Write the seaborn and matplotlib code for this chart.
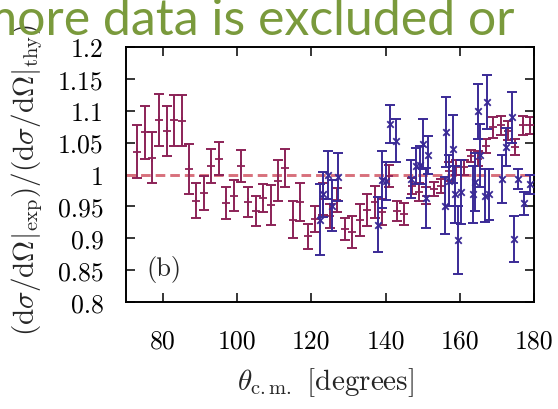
import numpy as np
import pandas as pd
import matplotlib
matplotlib.use("Agg")
import matplotlib.pyplot as plt
import seaborn as sns

# ---- data ----
red_x = [73, 75, 77, 79, 81, 83, 85, 87, 89, 91,
         93, 95, 97, 99, 101, 103, 105, 107, 109, 111,
         113, 115, 117, 119, 121, 123, 125, 127, 129, 131,
         133, 135, 137, 139, 141, 143, 145, 147, 149, 151,
         153, 155, 157, 159, 161, 163, 165, 167, 169, 171,
         173, 175, 177, 179]
red_y = [1.036, 1.066, 1.026, 1.085, 1.068, 1.085, 1.084, 1.009, 0.959, 0.971,
         1.013, 1.025, 0.955, 0.967, 1.013, 0.957, 0.943, 0.963, 0.952, 0.990,
         1.010, 0.929, 0.957, 0.903, 0.930, 0.962, 0.935, 0.960, 0.915, 0.910,
         0.929, 0.945, 0.957, 0.941, 0.998, 0.943, 0.938, 0.982, 0.972, 0.967,
         0.977, 0.982, 1.005, 1.011, 1.011, 1.029, 1.025, 1.045, 1.074, 1.077,
         1.069, 1.043, 1.077, 1.077]
red_err = [0.042, 0.042, 0.040, 0.041, 0.039, 0.040, 0.040, 0.039, 0.027, 0.027,
           0.027, 0.026, 0.025, 0.025, 0.025, 0.023, 0.023, 0.022, 0.031, 0.032,
           0.030, 0.029, 0.030, 0.020, 0.020, 0.025, 0.019, 0.019, 0.017, 0.025,
           0.025, 0.025, 0.025, 0.020, 0.017, 0.016, 0.017, 0.012, 0.014, 0.013,
           0.011, 0.011, 0.015, 0.012, 0.011, 0.010, 0.012, 0.011, 0.016, 0.015,
           0.015, 0.012, 0.015, 0.013]

blue_x = [122.3, 123.2, 124.4, 125.5, 127.1, 138.0, 139.1, 140.2, 141.3, 142.7,
          146.9, 148.1, 149.3, 150.2, 150.8, 151.3, 155.9, 156.4, 157.2, 158.2,
          158.6, 159.6, 160.2, 163.6, 164.2, 164.9, 165.4, 166.8, 167.3, 168.0,
          171.5, 172.4, 174.0, 174.5, 175.8, 177.4, 178.8]
blue_y = [0.929, 0.969, 0.999, 0.951, 0.996, 0.921, 0.992, 0.990, 1.079, 1.053,
          0.993, 1.013, 1.015, 1.048, 0.963, 1.031, 0.951, 1.066, 0.990, 1.040,
          0.969, 0.897, 0.973, 0.969, 0.988, 1.099, 1.030, 0.967, 1.114, 0.969,
          0.993, 1.043, 1.090, 0.899, 0.993, 0.955, 0.985]
blue_err = [0.056, 0.035, 0.038, 0.040, 0.037, 0.043, 0.045, 0.030, 0.030, 0.034,
            0.030, 0.028, 0.030, 0.039, 0.047, 0.030, 0.045, 0.055, 0.040, 0.053,
            0.045, 0.053, 0.050, 0.045, 0.045, 0.043, 0.050, 0.041, 0.042, 0.040,
            0.038, 0.030, 0.040, 0.036, 0.015, 0.018, 0.015]

x_ticks = [80, 100, 120, 140, 160, 180]
y_ticks = [0.8, 0.85, 0.9, 0.95, 1.0, 1.05, 1.1, 1.15, 1.2]
y_ticklabels = ["0.8", "0.85", "0.9", "0.95", "1", "1.05", "1.1", "1.15", "1.2"]
x_ticklabels = ["80", "100", "120", "140", "160", "180"]

RED = "#8c2257"
BLUE = "#3a2a96"
DASH = "#d8707c"
GREEN = "#7a9a3c"

sns.set_theme(style="ticks")
plt.rcParams["font.family"] = ["cmr10", "DejaVu Serif"]
plt.rcParams["mathtext.fontset"] = "cm"
plt.rcParams["axes.formatter.use_mathtext"] = True

fig = plt.figure(figsize=(5.58, 4.10), dpi=100)
ax = fig.add_axes([126 / 558, 1 - 303 / 410, (534 - 126) / 558, (303 - 48) / 410])

df_red = pd.DataFrame({"x": red_x, "y": red_y, "e": red_err})
df_blue = pd.DataFrame({"x": blue_x, "y": blue_y, "e": blue_err})

ax.axhline(1.0, color=DASH, lw=2.1, dashes=(3.3, 1.7), zorder=1)

ax.errorbar(df_red["x"], df_red["y"], yerr=df_red["e"], fmt="none",
            ecolor=RED, elinewidth=1.4, capsize=3.6, capthick=1.4, zorder=2)
sns.scatterplot(data=df_red, x="x", y="y", marker="+", s=30, color=RED,
                linewidth=1.3, ax=ax, zorder=3)

ax.errorbar(df_blue["x"], df_blue["y"], yerr=df_blue["e"], fmt="none",
            ecolor=BLUE, elinewidth=1.4, capsize=3.6, capthick=1.4, zorder=4)
sns.scatterplot(data=df_blue, x="x", y="y", marker="x", s=22, color=BLUE,
                linewidth=1.3, ax=ax, zorder=5)

ax.set_xlim(70, 180)
ax.set_ylim(0.8, 1.2)
ax.set_xticks(x_ticks)
ax.set_xticklabels(x_ticklabels)
ax.set_yticks(y_ticks)
ax.set_yticklabels(y_ticklabels)
ax.set_xlabel("")
ax.set_ylabel("")
ax.tick_params(axis="both", direction="in", length=6.5, width=1.1,
               top=True, right=True, labelsize=18.5, colors="black")
ax.tick_params(axis="x", pad=19)
ax.tick_params(axis="y", pad=16)
for sp in ax.spines.values():
    sp.set_visible(True)
    sp.set_linewidth(1.4)
    sp.set_color("black")

ax.text(75.6, 0.852, "(b)", fontsize=19, va="center", ha="left")

fig.text(326 / 558, 1 - 383 / 410, r"$\theta_{\mathrm{c.m.}}$ [degrees]",
         fontsize=21, ha="center", va="center")
fig.text(27 / 558, 1 - 336 / 410,
         r"$(\mathrm{d}\sigma/\mathrm{d}\Omega|_{\mathrm{exp}})/(\mathrm{d}\sigma/\mathrm{d}\Omega|_{\mathrm{thy}})$",
         fontsize=21, rotation=90, ha="center", va="bottom")

fig.text(515 / 558, 1 - 35 / 410, "more data is excluded or", fontsize=36,
         color=GREEN, family="Lato", ha="right", va="baseline")

fig.savefig("out.png", dpi=100)
